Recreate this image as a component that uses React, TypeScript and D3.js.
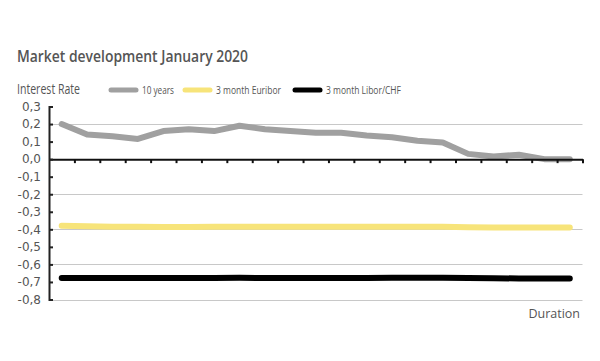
import * as React from 'react'
import { useEffect, useRef } from 'react'
import * as d3 from 'd3'

const seriesNames = ['10 years', '3 month Euribor', '3 month Libor/CHF']
const seriesColors = ['#a0a0a0', '#f7e47a', '#000000']

const tenYears = [0.20, 0.14, 0.13, 0.115, 0.16, 0.17, 0.16, 0.19, 0.17, 0.16, 0.15, 0.15, 0.135, 0.125, 0.105, 0.095, 0.03, 0.015, 0.025, 0.0, 0.0]
const euribor = [-0.38, -0.383, -0.385, -0.386, -0.387, -0.387, -0.386, -0.386, -0.386, -0.386, -0.386, -0.386, -0.386, -0.385, -0.385, -0.385, -0.388, -0.389, -0.389, -0.389, -0.389]
const liborChf = [-0.678, -0.678, -0.678, -0.677, -0.677, -0.677, -0.677, -0.676, -0.678, -0.678, -0.677, -0.677, -0.677, -0.676, -0.676, -0.676, -0.677, -0.679, -0.68, -0.68, -0.68]

const yTicks = [0.3, 0.2, 0.1, 0, -0.1, -0.2, -0.3, -0.4, -0.5, -0.6, -0.7, -0.8]
const gridTicks = [0.2, -0.2, -0.4, -0.6, -0.8]

const width = 600
const height = 361

const App = () => {
    const chartRef = useRef(null)

    useEffect((): void => {
        const svg = d3.select(chartRef.current)
        svg.selectAll('*').remove()

        const left = 49, right = 582.5, top = 106.5, bottom = 299.5
        const n = tenYears.length

        const xBand = d3.scaleBand().domain(d3.range(n)).range([left, right]).padding(0)
        const xLin = d3.scaleLinear().domain([0, n]).range([left, right])
        const yScale = d3.scaleLinear().domain([-0.8, 0.3]).range([bottom, top])

        const font = "'Open Sans', sans-serif"

        // title
        svg.append('text')
            .attr('x', 17).attr('y', 62)
            .attr('textLength', 231).attr('lengthAdjust', 'spacingAndGlyphs')
            .style('font-family', font).style('font-weight', 600)
            .style('font-size', '17px').style('fill', '#555')
            .text('Market development January 2020')

        svg.append('text')
            .attr('x', 17).attr('y', 94)
            .attr('textLength', 63).attr('lengthAdjust', 'spacingAndGlyphs')
            .style('font-family', font).style('font-size', '14px').style('fill', '#555')
            .text('Interest Rate')

        // legend
        const legendX = [109, 183, 293]
        const legendTextLen = [32, 65, 75]
        seriesNames.forEach((name, i) => {
            svg.append('line')
                .attr('x1', legendX[i] + 2).attr('x2', legendX[i] + 27)
                .attr('y1', 90).attr('y2', 90)
                .attr('stroke', seriesColors[i]).attr('stroke-width', 5)
                .attr('stroke-linecap', 'round')
            svg.append('text')
                .attr('x', legendX[i] + 33).attr('y', 93.5)
                .attr('textLength', legendTextLen[i]).attr('lengthAdjust', 'spacingAndGlyphs')
                .style('font-family', font).style('font-size', '11px').style('fill', '#555')
                .text(name)
        })

        // grid
        svg.append('g')
            .selectAll('line')
            .data(gridTicks)
            .enter()
            .append('line')
            .attr('x1', left).attr('x2', right)
            .attr('y1', d => Math.round(yScale(d)) + 0.5)
            .attr('y2', d => Math.round(yScale(d)) + 0.5)
            .attr('stroke', '#c8c8c8').attr('stroke-width', 1)

        // lines
        const line = d3.line<number>()
            .x((d, i) => xBand(i) + xBand.bandwidth() / 2)
            .y(d => yScale(d))

        ;[tenYears, euribor, liborChf].forEach((values, i) => {
            svg.append('path')
                .datum(values)
                .attr('d', line)
                .attr('fill', 'none')
                .attr('stroke', seriesColors[i])
                .attr('stroke-width', 6)
                .attr('stroke-linecap', 'round')
                .attr('stroke-linejoin', 'round')
        })

        // x axis at zero
        const xAxis = svg.append('g')
            .attr('transform', `translate(0, ${yScale(0)})`)
            .call(d3.axisBottom(xLin)
                .tickValues(d3.range(1, n + 1))
                .tickSizeInner(4)
                .tickSizeOuter(0)
                .tickFormat(() => ''))
        xAxis.select('.domain').attr('stroke', '#111').attr('stroke-width', 2)
        xAxis.selectAll('.tick line').attr('stroke', '#111').attr('stroke-width', 2)

        // y axis
        const yAxis = svg.append('g')
            .attr('transform', `translate(${left}, 0)`)
            .call(d3.axisLeft(yScale)
                .tickValues(yTicks)
                .tickSizeInner(-4)
                .tickSizeOuter(-4)
                .tickPadding(8)
                .tickFormat(d => d3.format('.1f')(d).replace('.', ',').replace('−', '-')))
        yAxis.select('.domain').attr('stroke', '#222').attr('stroke-width', 2)
        yAxis.selectAll('.tick line').attr('stroke', '#222').attr('stroke-width', 2)
        yAxis.selectAll('text')
            .style('font-family', "'DejaVu Sans', sans-serif")
            .style('font-size', '12px')
            .style('fill', '#555')

        svg.append('text')
            .attr('x', 580).attr('y', 318)
            .attr('text-anchor', 'end')
            .style('font-family', font).style('font-size', '12.5px').style('fill', '#555')
            .text('Duration')
    }, [])

    return (
        <svg ref={chartRef} width={width} height={height}
            style={{ position: 'absolute', left: 0, top: 0, background: '#fff' }}></svg>
    )
}

export default App
